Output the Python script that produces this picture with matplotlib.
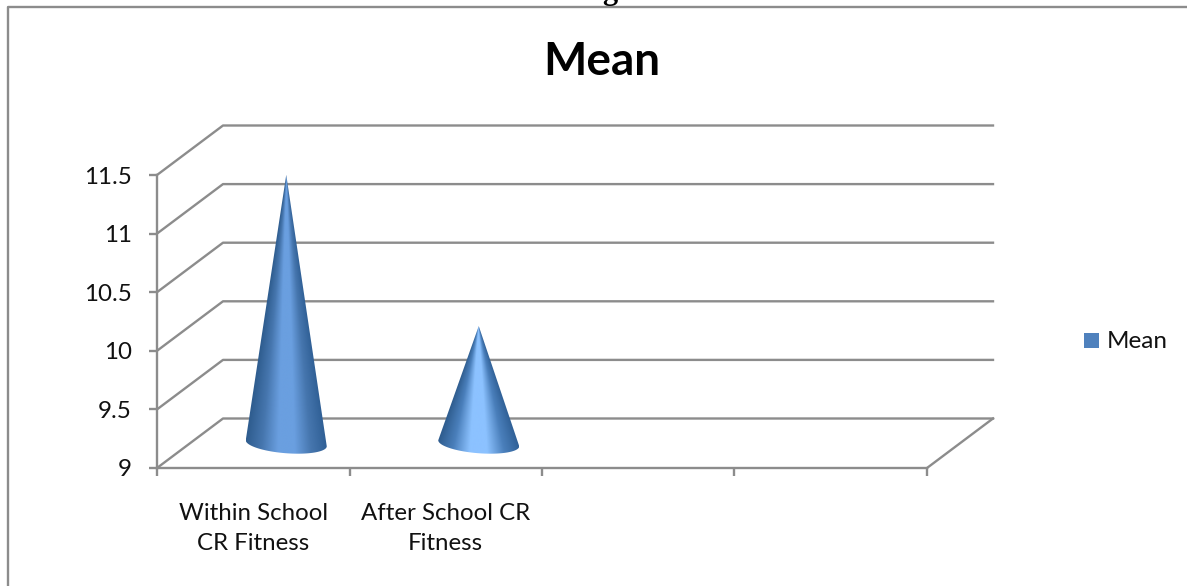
import numpy as np
import matplotlib
matplotlib.use("Agg")
import matplotlib.pyplot as plt
from matplotlib.colors import LinearSegmentedColormap
from matplotlib.lines import Line2D
from matplotlib.patches import Polygon, Rectangle

plt.rcParams['font.family'] = ['Lato', 'DejaVu Sans']

W, H = 1187, 586

categories = ["Within School\nCR Fitness", "After School CR\nFitness", "", ""]
means = [11.29, 10.0]
y_ticks = [9, 9.5, 10, 10.5, 11, 11.5]
y_labels = ["9", "9.5", "10", "10.5", "11", "11.5"]

GRID = "#8c8c8c"
TXT = "#111111"
# pixels per category / per unit of value, depth of the 3d box
X_PX = 770 / 4
Y_PX = 293 / 2.5
DX = 66 / X_PX
DY = 49.5 / Y_PX

dark = LinearSegmentedColormap.from_list("d", ["#2f5d8f", "#4676ae", "#6a9fe0", "#6a9fe0", "#4676ae", "#2f5f95"])
light = LinearSegmentedColormap.from_list("l", ["#2f5d8f", "#4a7fbb", "#8cc2ff", "#8cc2ff", "#4a7fbb", "#2f5f95"])
cmaps = [dark, light]

fig = plt.figure(figsize=(W / 100, H / 100), dpi=100)
ax = fig.add_axes([157 / W, (H - 468) / H, 770 / W, 293 / H])
ax.patch.set_alpha(0)


def cone(x, value, cmap):
    # cone stands in the middle of the depth, shading runs from the tip to the base
    base = 9 + DY / 2
    tip = value + DY / 2
    a = 40.5 / X_PX
    b = 10 / Y_PX
    tilt = 3 / Y_PX
    t = np.linspace(np.pi, 2 * np.pi, 80)
    bx = x + a * np.cos(t)
    by = base + b * np.sin(t) - tilt * np.cos(t)
    outline = [(x, tip)] + list(zip(bx, by))
    xs = np.linspace(x - a, x + a, 300)
    ys = np.linspace(base - 1.5 * b, tip, 400)
    gx, gy = np.meshgrid(xs, ys)
    half = a * np.clip((tip - gy) / (tip - base), 0.002, None)
    u = np.clip((gx - x) / half, -1, 1) / 2 + 0.5
    im = ax.imshow(u, extent=[xs[0], xs[-1], ys[0], ys[-1]], origin="lower", aspect="auto",
                   cmap=cmap, vmin=0, vmax=1, zorder=5)
    clip = Polygon(outline, closed=True, transform=ax.transData)
    im.set_clip_path(clip)


# walls and floor
for v in y_ticks:
    ax.plot([0, DX, 4 + DX], [v, v + DY, v + DY], color=GRID, lw=1.7, clip_on=False, zorder=1)
ax.plot([4, 4 + DX], [9, 9 + DY], color=GRID, lw=1.7, clip_on=False, zorder=1)

for i in range(len(means)):
    cone(i + 0.5 + DX / 2, means[i], cmaps[i])

ax.set_xlim(0, 4)
ax.set_ylim(9, 11.5)

for s in ["top", "right"]:
    ax.spines[s].set_visible(False)
for s in ["left", "bottom"]:
    ax.spines[s].set_color(GRID)
    ax.spines[s].set_linewidth(1.7)

ax.set_yticks(y_ticks)
ax.set_yticklabels(y_labels)
ax.set_xticks(range(5))
ax.set_xticklabels([])
ax.tick_params(axis="both", color=GRID, width=1.7, length=6, labelsize=17.4, labelcolor=TXT)
ax.tick_params(axis="y", pad=12)

for i, c in enumerate(categories):
    if c:
        ax.annotate(c, (i + 0.5, 9), xytext=(0, -25), textcoords="offset points", ha="center", va="top",
                    fontsize=17.3, color=TXT, linespacing=1.55, annotation_clip=False)

fig.text(602 / W, 1 - 62 / H, "Mean", ha="center", va="center", fontsize=33, fontweight="bold", color="black")
# tail of the page heading above the chart, cut by the image edge
fig.text(610 / W, 1 + 1 / H, "g", ha="center", va="baseline", fontsize=22, fontweight="bold",
         family="Liberation Serif", color="black")

# chart frame
fig.add_artist(Line2D([8 / W, 8 / W, 1], [0, 1 - 7 / H, 1 - 7 / H], color=GRID, lw=1.7))

# legend
fig.add_artist(Rectangle((1084 / W, 1 - 348 / H), 15 / W, 15 / H, transform=fig.transFigure, color="#4f81bd", lw=0))
fig.text(1107 / W, 1 - 342 / H, "Mean", ha="left", va="center", fontsize=17.5, color=TXT)

fig.savefig("out.png", dpi=100)
